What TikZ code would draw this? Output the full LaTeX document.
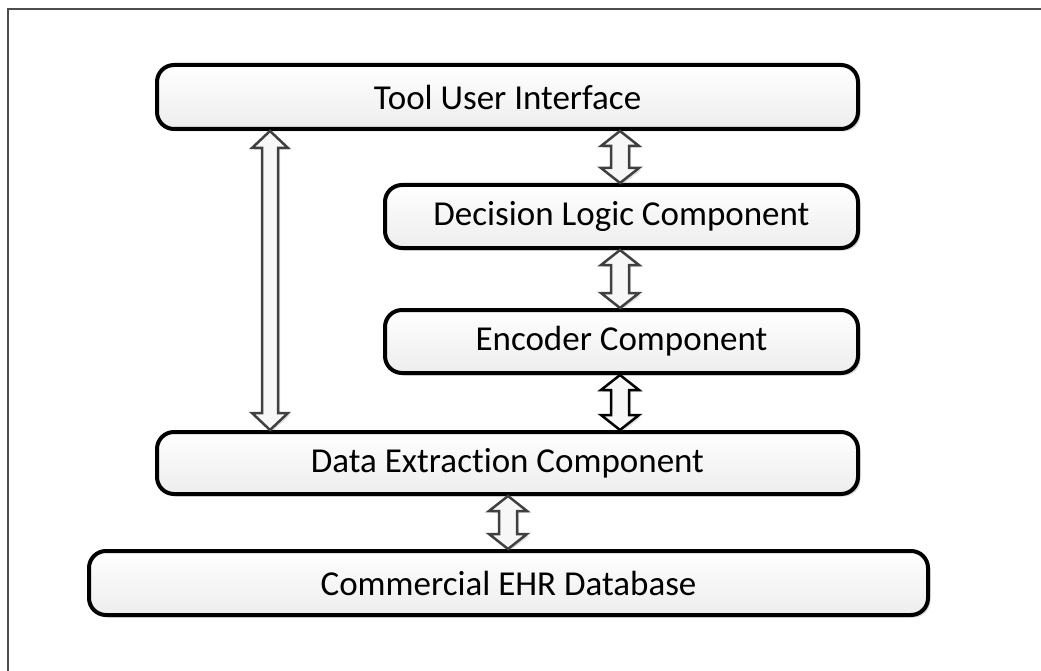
\documentclass[tikz,border=0pt]{standalone}
\usepackage{fontspec}
\setmainfont[Ligatures=NoCommon]{Carlito}
\usetikzlibrary{calc,shadows}
\newcommand\dbarrow[7]{% x, top node, bottom node, style, head half width, shaft half width, head height
  \draw[#4] let \p1=(#2.south), \p2=(#3.north) in
   (#1pt,\y1) -- (#1pt+#5pt,\y1-#7pt) -- (#1pt+#6pt,\y1-#7pt) -- (#1pt+#6pt,\y2+#7pt)
   -- (#1pt+#5pt,\y2+#7pt) -- (#1pt,\y2) -- (#1pt-#5pt,\y2+#7pt) -- (#1pt-#6pt,\y2+#7pt)
   -- (#1pt-#6pt,\y1-#7pt) -- (#1pt-#5pt,\y1-#7pt) -- cycle;}
\begin{document}
\begin{tikzpicture}[x=1pt,y=-1pt,
  box/.style={draw=black, line width=4pt, rounded corners=17pt, top color=white, bottom color=black!7,
    font=\fontsize{35}{40}\selectfont, inner sep=0pt,
    drop shadow={shadow xshift=2.5pt, shadow yshift=-2.5pt, opacity=0.25, fill=black!60}},
  arr/.style={draw=black!75, fill=black!3, line width=2.5pt, line join=miter,
    drop shadow={shadow xshift=2pt, shadow yshift=-2pt, opacity=0.2, fill=black!60}},
  arrdark/.style={arr, draw=black}]
\useasboundingbox (0,0) rectangle (1041,671);
\draw[black!70, line width=2pt] (8,675) -- (8,9) -- (1045,9);
\node[box, minimum width=701pt, minimum height=64pt] (ui) at (507.5,97) {Tool User Interface};
\node[box, minimum width=473pt, minimum height=63pt] (dl) at (621.5,216.5) {Decision Logic Component};
\node[box, minimum width=473pt, minimum height=63pt] (enc) at (621.5,341.5) {Encoder Component};
\node[box, minimum width=701pt, minimum height=62pt] (de) at (507.5,463) {Data Extraction Component};
\node[box, minimum width=839pt, minimum height=64pt] (ehr) at (508.5,583) {Commercial EHR Database};
\dbarrow{620}{ui}{dl}{arr}{19}{9}{15}
\dbarrow{620}{dl}{enc}{arr}{19}{9}{15}
\dbarrow{620}{enc}{de}{arrdark}{19}{9}{15}
\dbarrow{508}{de}{ehr}{arr}{19}{9}{15}
\dbarrow{270}{ui}{de}{arr}{18}{8}{17}
\end{tikzpicture}
\end{document}
